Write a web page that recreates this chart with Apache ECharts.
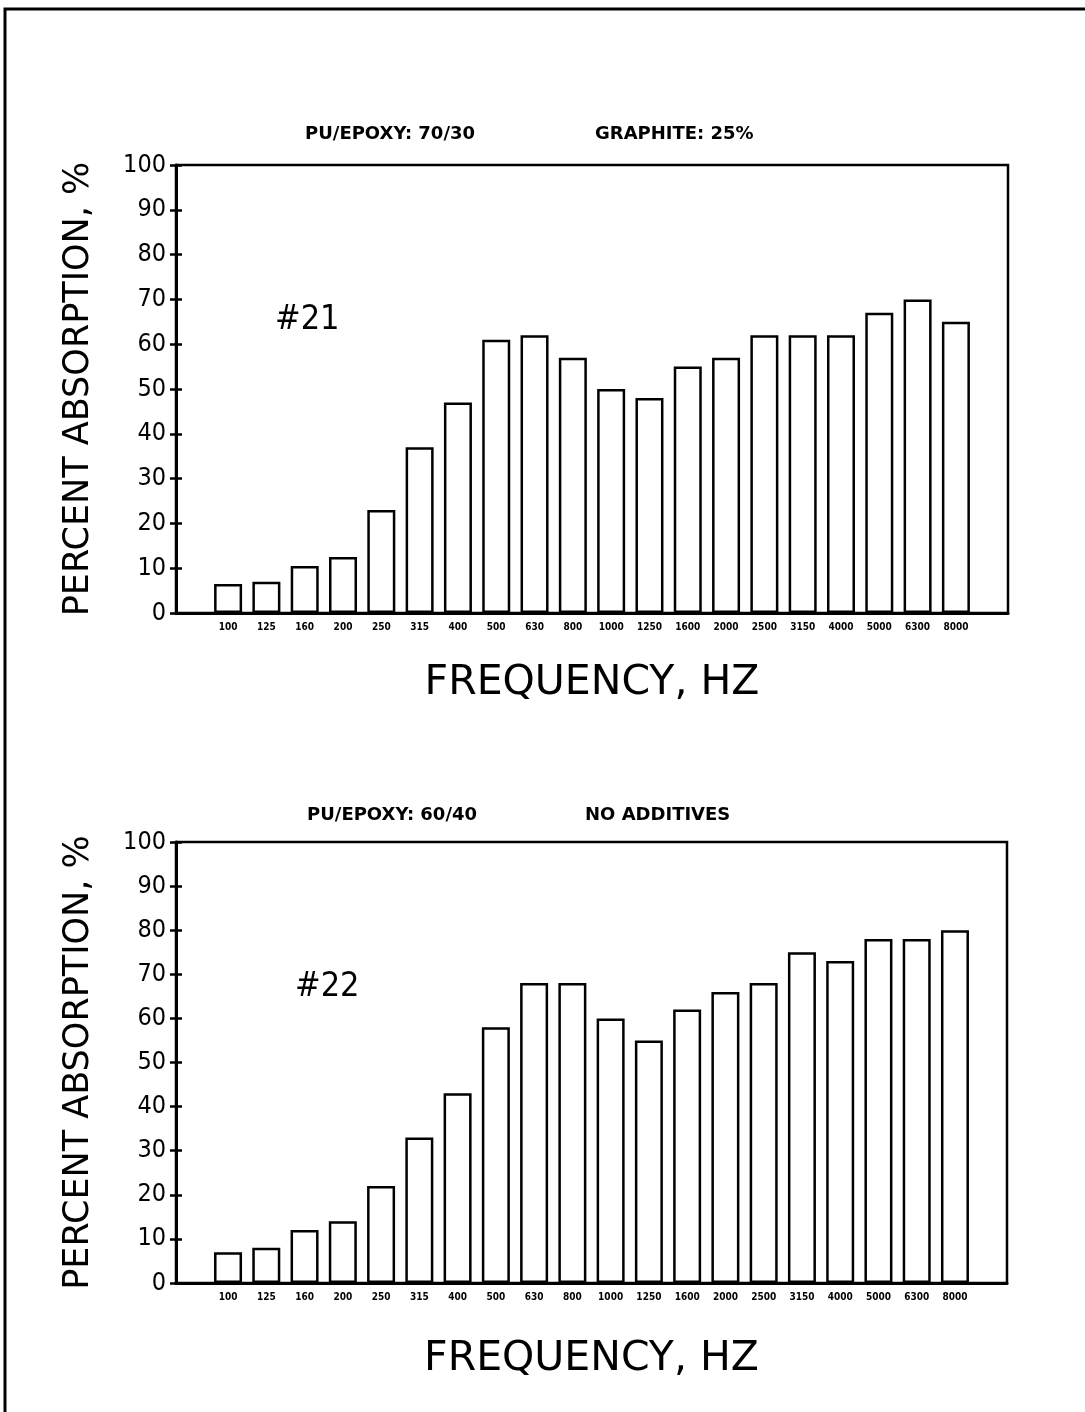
<!DOCTYPE html>
<html>
<head>
<meta charset="utf-8">
<script src="https://cdn.jsdelivr.net/npm/echarts@6/dist/echarts.min.js"></script>
<style>
  html, body { margin: 0; padding: 0; background: #fff; }
  #main { width: 1085px; height: 1412px; }
</style>
</head>
<body>
<div id="main"></div>
<script>
// frequency bands (Hz)
var freqs = ['100', '125', '160', '200', '250', '315', '400', '500', '630', '800',
    '1000', '1250', '1600', '2000', '2500', '3150', '4000', '5000', '6300', '8000'];
// #21  PU/EPOXY 70/30, graphite 25%
var absorb21 = [6.5, 7, 10.5, 12.5, 23, 37, 47, 61, 62, 57, 50, 48, 55, 57, 62, 62, 62, 67, 70, 65];
// #22  PU/EPOXY 60/40, no additives
var absorb22 = [7, 8, 12, 14, 22, 33, 43, 58, 68, 68, 60, 55, 62, 66, 68, 75, 73, 78, 78, 80];
var yTicks = [0, 10, 20, 30, 40, 50, 60, 70, 80, 90, 100];

var labelFont = "'Liberation Sans Narrow', 'DejaVu Sans Condensed', sans-serif";
var bandIdx = freqs.map(function (f, i) { return i; });

function toPoints(vals) {
    return vals.map(function (v, i) { return [i, v]; });
}

function xAxisFor(gridIndex, nameGap) {
    return {
        gridIndex: gridIndex,
        type: 'value',
        min: -1.36,
        max: freqs.length - 1 + 1.36,
        name: 'FREQUENCY, HZ',
        nameLocation: 'middle',
        nameGap: nameGap,
        nameTextStyle: { color: '#000', fontSize: 41, fontFamily: 'DejaVu Sans' },
        axisLine: { show: true, onZero: false, lineStyle: { color: '#000', width: 3 } },
        axisTick: { show: false },
        splitLine: { show: false },
        axisLabel: {
            customValues: bandIdx,
            formatter: function (v) { return freqs[Math.round(v)]; },
            color: '#000',
            fontSize: 10,
            fontWeight: 'bold',
            fontFamily: labelFont,
            margin: 9
        }
    };
}

function yAxesFor(gridIndex) {
    return [{
        gridIndex: gridIndex,
        type: 'value',
        min: yTicks[0],
        max: yTicks[yTicks.length - 1],
        interval: 10,
        name: 'PERCENT ABSORPTION, %',
        nameLocation: 'middle',
        nameGap: 80,
        nameTextStyle: { color: '#000', fontSize: 35, fontFamily: 'DejaVu Sans' },
        axisLine: { show: true, onZero: false, lineStyle: { color: '#000', width: 3 } },
        axisTick: { show: true, length: 6, lineStyle: { color: '#000', width: 2.5 } },
        splitLine: { show: false },
        axisLabel: { color: '#000', fontSize: 25, fontFamily: labelFont, margin: 10 }
    }, {
        // inner half of the cross ticks
        gridIndex: gridIndex,
        type: 'value',
        position: 'left',
        min: yTicks[0],
        max: yTicks[yTicks.length - 1],
        interval: 10,
        axisLine: { show: false, onZero: false },
        axisTick: { show: true, inside: true, length: 6, lineStyle: { color: '#000', width: 2.5 } },
        axisLabel: { show: false },
        splitLine: { show: false }
    }];
}

function barSeries(idx, vals) {
    return {
        type: 'bar',
        xAxisIndex: idx,
        yAxisIndex: idx * 2,
        data: toPoints(vals),
        barWidth: 28,
        itemStyle: { color: '#fff', borderColor: '#000', borderWidth: 2.5 },
        silent: true
    };
}

var titleStyle = { color: '#000', fontSize: 18, fontWeight: 'bold', fontFamily: 'DejaVu Sans' };
var tagStyle = { color: '#000', fontSize: 34, fontWeight: 'normal', fontFamily: labelFont };

var option = {
    backgroundColor: '#fff',
    animation: false,
    title: [
        { text: 'PU/EPOXY: 70/30', left: 300, top: 120, textStyle: titleStyle },
        { text: 'GRAPHITE: 25%', left: 590, top: 120, textStyle: titleStyle },
        { text: '#21', left: 270, top: 298, textStyle: tagStyle },
        { text: 'PU/EPOXY: 60/40', left: 302, top: 801, textStyle: titleStyle },
        { text: 'NO ADDITIVES', left: 580, top: 801, textStyle: titleStyle },
        { text: '#22', left: 290, top: 965, textStyle: tagStyle }
    ],
    grid: [
        { left: 176, right: 77, top: 165, height: 448, show: true, borderColor: '#000', borderWidth: 2.5 },
        { left: 176, right: 78, top: 842, height: 441, show: true, borderColor: '#000', borderWidth: 2.5 }
    ],
    xAxis: [xAxisFor(0, 50), xAxisFor(1, 56)],
    yAxis: yAxesFor(0).concat(yAxesFor(1)),
    series: [barSeries(0, absorb21), barSeries(1, absorb22)],
    graphic: [{
        type: 'polyline',
        silent: true,
        shape: { points: [[5, 1412], [5, 9], [1085, 9]] },
        style: { stroke: '#000', lineWidth: 3, fill: null }
    }]
};

var myChart = echarts.init(document.getElementById('main'));
myChart.setOption(option);
</script>
</body>
</html>
